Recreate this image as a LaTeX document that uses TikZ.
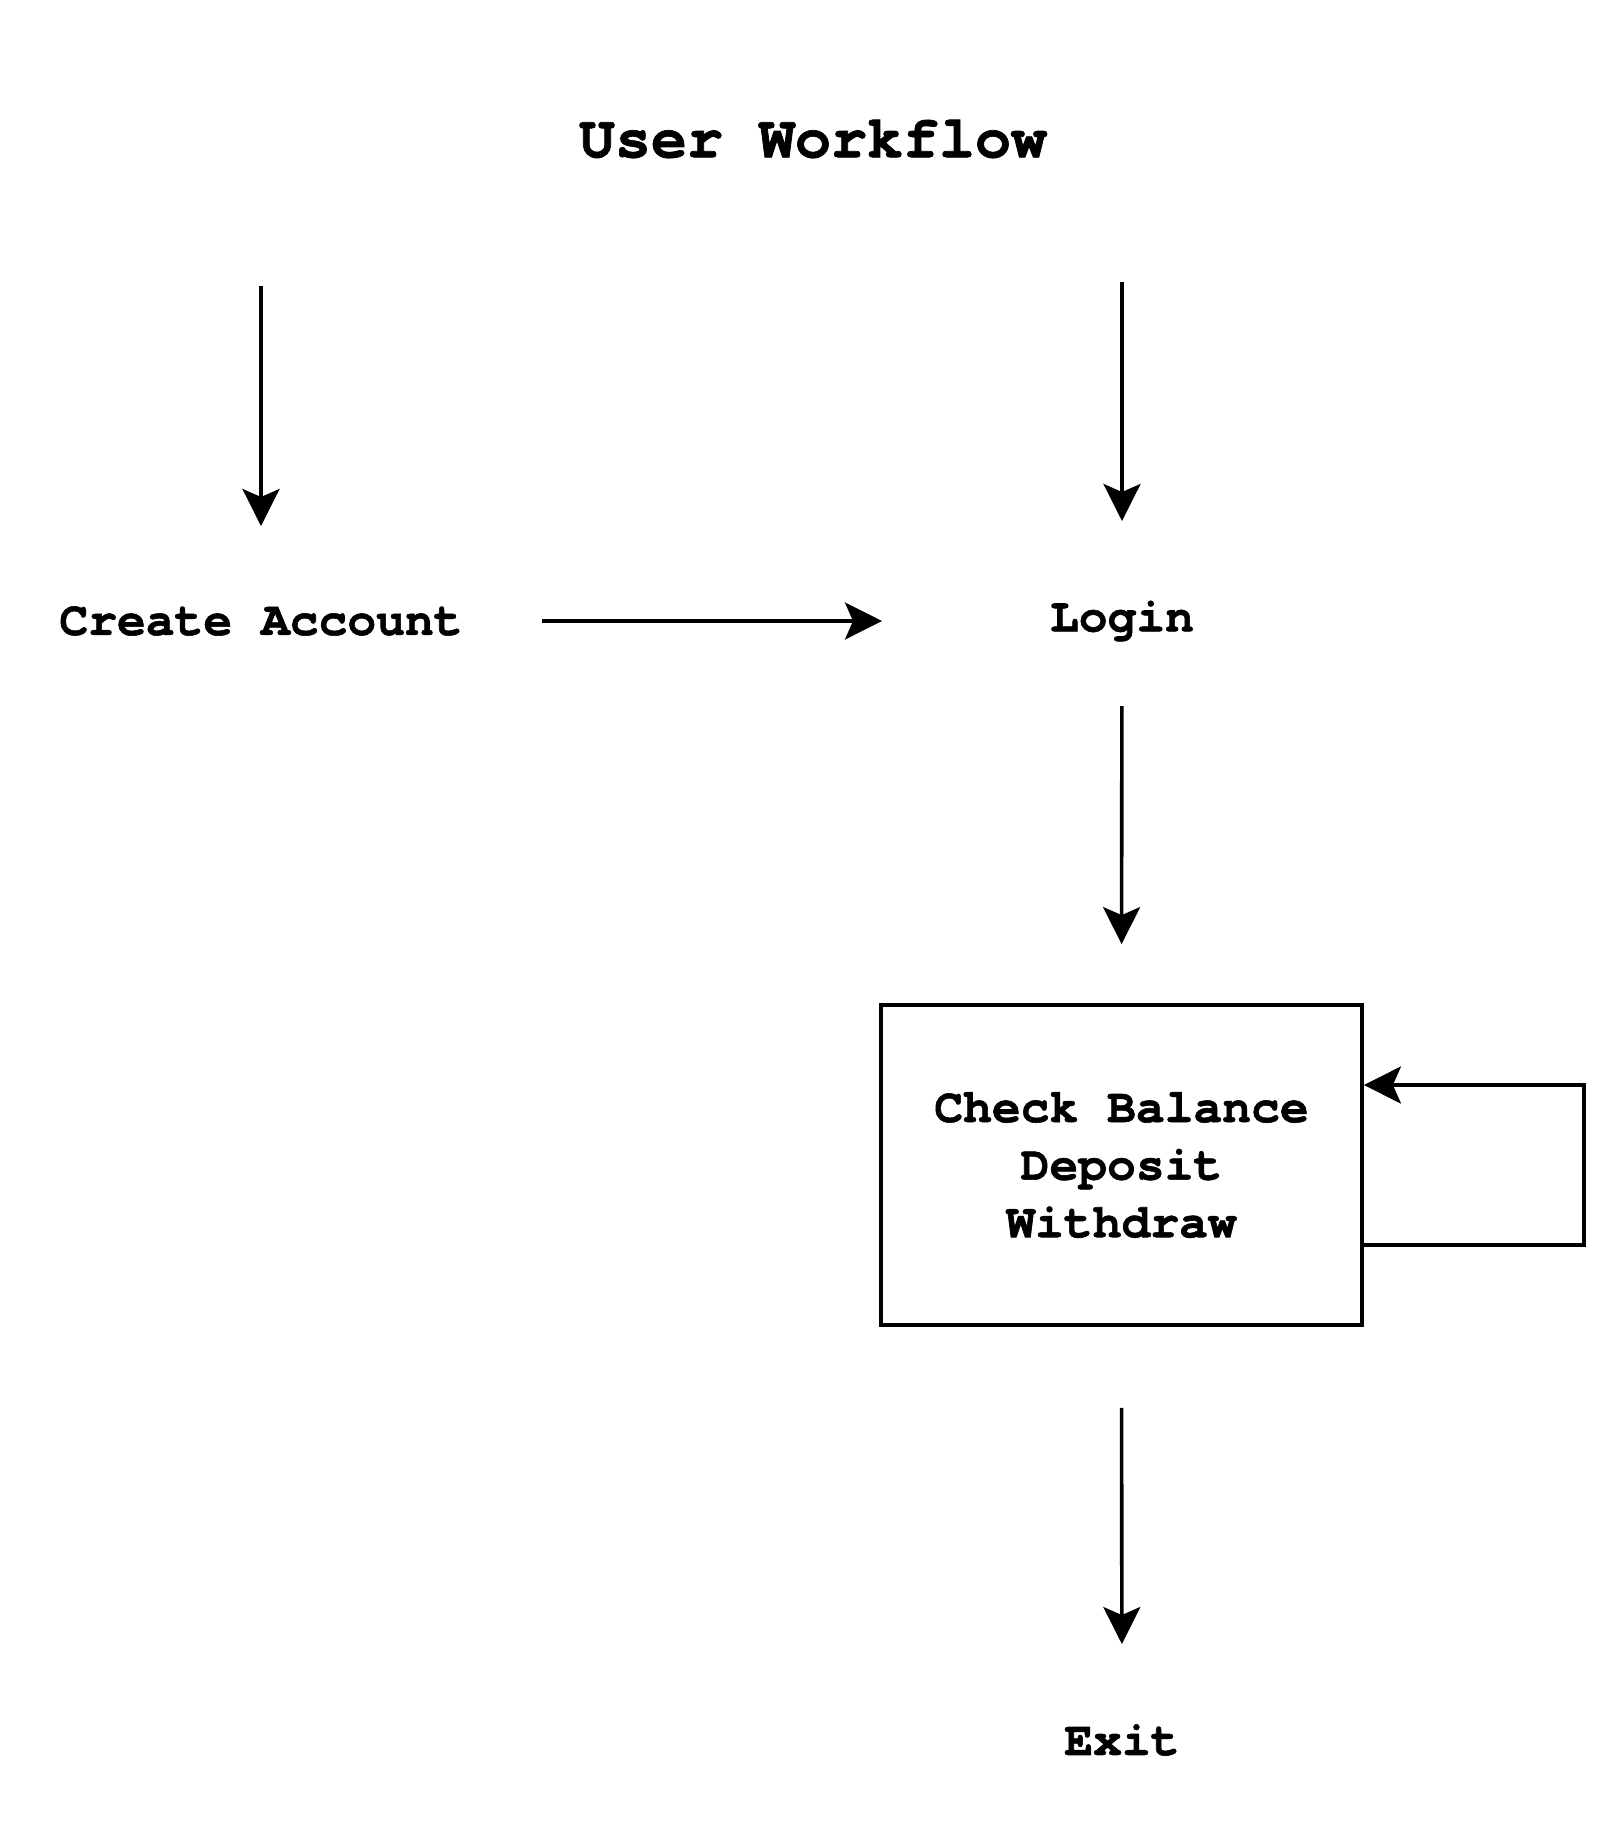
\documentclass[tikz,border=0pt]{standalone}
\usepackage{fontspec}
\setmonofont[Ligatures=NoCommon,BoldFeatures={FakeBold=1.2}]{TeX Gyre Cursor}
\usepackage{tikz}
\usetikzlibrary{arrows.meta}
\tikzstyle{plaintext}=[inner sep=0pt,
                       font=\ttfamily\bfseries\fontsize{24}{28.8}\selectfont]
\tikzstyle{titletext}=[inner sep=0pt,
                       font=\ttfamily\bfseries\fontsize{30}{36}\selectfont]
\tikzstyle{flowbox}=[draw=black,line width=1.9pt,align=center,
                     minimum width=240.5pt,minimum height=160pt,
                     font=\ttfamily\bfseries\fontsize{24}{28.8}\selectfont]
\tikzstyle{flowarrow}=[draw=black,line width=1.8pt,
                       -{Stealth[length=18.5pt,width=18.5pt,inset=4pt]}]

\begin{document}
\begin{tikzpicture}[x=0.5pt,y=-0.5pt]
    \useasboundingbox (0,0) rectangle (1624,1844);
    \node (title) at (813,139) [titletext]{User Workflow};
    \node (ca) at (261,621) [plaintext]{Create Account};
    \node (login) at (1122,621) [plaintext]{Login};
    \node (ops) at (1121.5,1165) [flowbox]{Check Balance\\Deposit\\Withdraw};
    \node (exit) at (1122,1740) [plaintext]{Exit};
    \coordinate (caIn) at (261,286);
    \coordinate (loginIn) at (1122,282);
    \draw[flowarrow,shorten >=47.5pt] (caIn) -- (ca.center);
    \draw[flowarrow,shorten >=50pt] (loginIn) -- (login.center);
    \draw[flowarrow,shorten <=140.5pt,shorten >=120pt] (ca.center) -- (login.center);
    \draw[flowarrow,shorten <=42.5pt,shorten >=29.5pt] (login.center) -- (ops.north);
    \draw[flowarrow,shorten <=40.5pt,shorten >=48pt] (ops.south) -- (exit.center);
    \draw[flowarrow] ([yshift=-40pt]ops.east) -- ++(110pt,0)
        |- ([yshift=40pt]ops.east);
  \end{tikzpicture}
\end{document}
